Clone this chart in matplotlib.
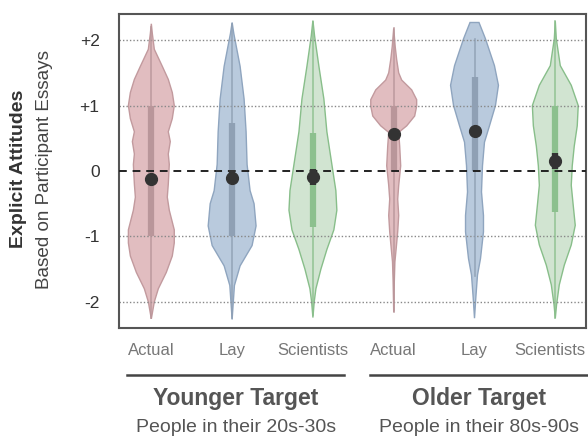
import matplotlib
matplotlib.use('Agg')
import matplotlib.pyplot as plt
import matplotlib.transforms as mtransforms
import numpy as np

plt.rcParams['font.family'] = ['Liberation Sans', 'DejaVu Sans']

labels = ['Actual', 'Lay', 'Scientists', 'Actual', 'Lay', 'Scientists']
groups = ['Younger Target', 'Older Target']
subtitles = ['People in their 20s-30s', 'People in their 80s-90s']
yticks = [2, 1, 0, -1, -2]
yticklabels = ['+2', '+1', '0', '-1', '-2']

# violin outlines: value levels and half-width (density, px)
ya_y = [2.25, 2.1, 1.86, 1.6, 1.4, 1.2, 1.0, 0.8, 0.6, 0.45, 0.26, 0.1, -0.2, -0.4, -0.6, -0.9, -1.1, -1.3, -1.55, -1.8, -2.0, -2.26]
ya_w = [0, 1, 3, 11, 17, 21, 23, 21, 17, 19, 17, 18, 17, 16, 18, 23, 23, 21, 15, 7, 3, 0]
yl_y = [2.27, 2.1, 1.6, 1.1, 0.6, 0.1, -0.3, -0.5, -0.84, -1.14, -1.45, -1.75, -2.0, -2.27]
yl_w = [0, 1.7, 8, 12, 14, 15, 18, 22, 24, 20, 8, 2.3, 1.2, 0]
ys_y = [2.3, 2.06, 1.6, 1.1, 0.6, 0.1, -0.3, -0.6, -0.9, -1.2, -1.5, -1.8, -2.0, -2.24]
ys_w = [0, 1.7, 6, 11, 14, 19, 23, 24, 21, 14, 8, 3, 1.3, 0]
oa_y = [2.18, 1.9, 1.7, 1.5, 1.39, 1.24, 1.09, 0.99, 0.84, 0.69, 0.59, 0.38, 0.08, -0.22, -0.43, -0.68, -0.93, -1.18, -1.39, -1.69, -2.15]
oa_w = [0, 1.5, 3, 5, 8, 18, 23, 23, 21, 13, 5, 6, 7, 5, 4, 5, 4, 2.5, 1.2, 0.6, 0]
ol_y = [2.27, 2.02, 1.61, 1.31, 1.0, 0.69, 0.44, 0.08, -0.32, -0.68, -0.93, -1.34, -1.59, -1.94, -2.25]
ol_w = [4.5, 11, 20, 24, 21, 15, 10, 8, 7, 9, 9, 6, 3, 1.3, 0]
os_y = [2.29, 2.02, 1.61, 1.31, 1.0, 0.69, 0.38, 0.08, -0.22, -0.53, -0.83, -1.13, -1.44, -1.74, -2.04, -2.25]
os_w = [0, 1, 5, 16, 23, 22, 19, 17, 16, 18, 20, 16, 9, 4, 1.3, 0]

violin_y = [ya_y, yl_y, ys_y, oa_y, ol_y, os_y]
violin_w = [ya_w, yl_w, ys_w, oa_w, ol_w, os_w]

whisk_lo = [-2.25, -2.25, -2.2, -2.15, -1.6, -2.25]
whisk_hi = [2.2, 2.25, 2.28, 2.18, 2.02, 2.29]
q1 = [-1.0, -1.0, -0.86, 0.0, 0.0, -0.63]
q3 = [1.0, 0.73, 0.58, 1.0, 1.44, 1.0]
means = [-0.12, -0.10, -0.09, 0.57, 0.61, 0.15]
ci_lo = [-0.16, -0.16, -0.22, 0.50, 0.53, 0.03]
ci_hi = [-0.08, 0.02, 0.03, 0.63, 0.68, 0.27]

fills = ['#e1bdc0', '#b9cadd', '#d1e4d1']
edges = ['#c29a9e', '#8fa5bf', '#88be8a']
bars = ['#b9969a', '#8fa0b4', '#8cc08e']

fig = plt.figure(figsize=(5.88, 4.37), dpi=100)
ax = fig.add_axes([0.2024, 0.2494, 0.7942, 0.7186])

px = 1 / 81.0
for i in range(6):
    c = i % 3
    y = np.array(violin_y[i])
    w = np.array(violin_w[i]) * px
    xs = np.concatenate([i - w, (i + w)[::-1]])
    ys = np.concatenate([y, y[::-1]])
    ax.fill(xs, ys, facecolor=fills[c], edgecolor=edges[c], lw=1.0, zorder=2)
    ax.plot([i, i], [whisk_lo[i], whisk_hi[i]], color=bars[c], lw=1.2, alpha=0.85, zorder=3)
    ax.plot([i, i], [q1[i], q3[i]], color=bars[c], lw=4.5, solid_capstyle='butt', zorder=3)
    ax.plot([i, i], [ci_lo[i], ci_hi[i]], color='#333333', lw=4.5, solid_capstyle='butt', zorder=5)
    ax.plot(i, means[i], 'o', color='#333333', ms=8.5, zorder=6)

for v in [2, 1, -1, -2]:
    ax.axhline(v, color='#888888', ls=(0, (1, 1.5)), lw=1.0, zorder=2.5)
ax.axhline(0, color='#222222', ls=(0, (4, 3)), lw=1.4, zorder=4)

ax.set_xlim(-0.4, 5.38)
ax.set_ylim(-2.4, 2.4)
ax.set_xticks(range(6))
ax.set_xticklabels(labels, fontsize=12, color='#777777')
ax.set_yticks(yticks)
ax.set_yticklabels(yticklabels, fontsize=12.5, color='#333333')
ax.tick_params(axis='x', length=0, pad=11)
ax.tick_params(axis='y', length=0, pad=14)
for s in ax.spines.values():
    s.set_color('#555555')
    s.set_linewidth(1.5)

# last label sits a little left so it stays inside the figure
last = ax.get_xticklabels()[-1]
last.set_transform(last.get_transform() + mtransforms.ScaledTranslation(-0.05, 0, fig.dpi_scale_trans))

fig.text(0.031, 0.613, 'Explicit Attitudes', rotation=90, fontsize=14, fontweight='bold',
         color='#333333', ha='center', va='center')
fig.text(0.075, 0.613, 'Based on Participant Essays', rotation=90, fontsize=13.6,
         color='#444444', ha='center', va='center')

ly = 1 - 375 / 437
fig.add_artist(plt.Line2D([127 / 588, 344 / 588], [ly, ly], color='#444444', lw=1.8))
fig.add_artist(plt.Line2D([370 / 588, 1.0], [ly, ly], color='#444444', lw=1.8))
for cx, g, s in zip([236 / 588, 479 / 588], groups, subtitles):
    fig.text(cx, 1 - 398 / 437, g, fontsize=16.5, fontweight='bold', color='#555555',
             ha='center', va='center')
    fig.text(cx, 1 - 427 / 437, s, fontsize=14, color='#555555', ha='center', va='center')

fig.savefig('out.png', dpi=100)
